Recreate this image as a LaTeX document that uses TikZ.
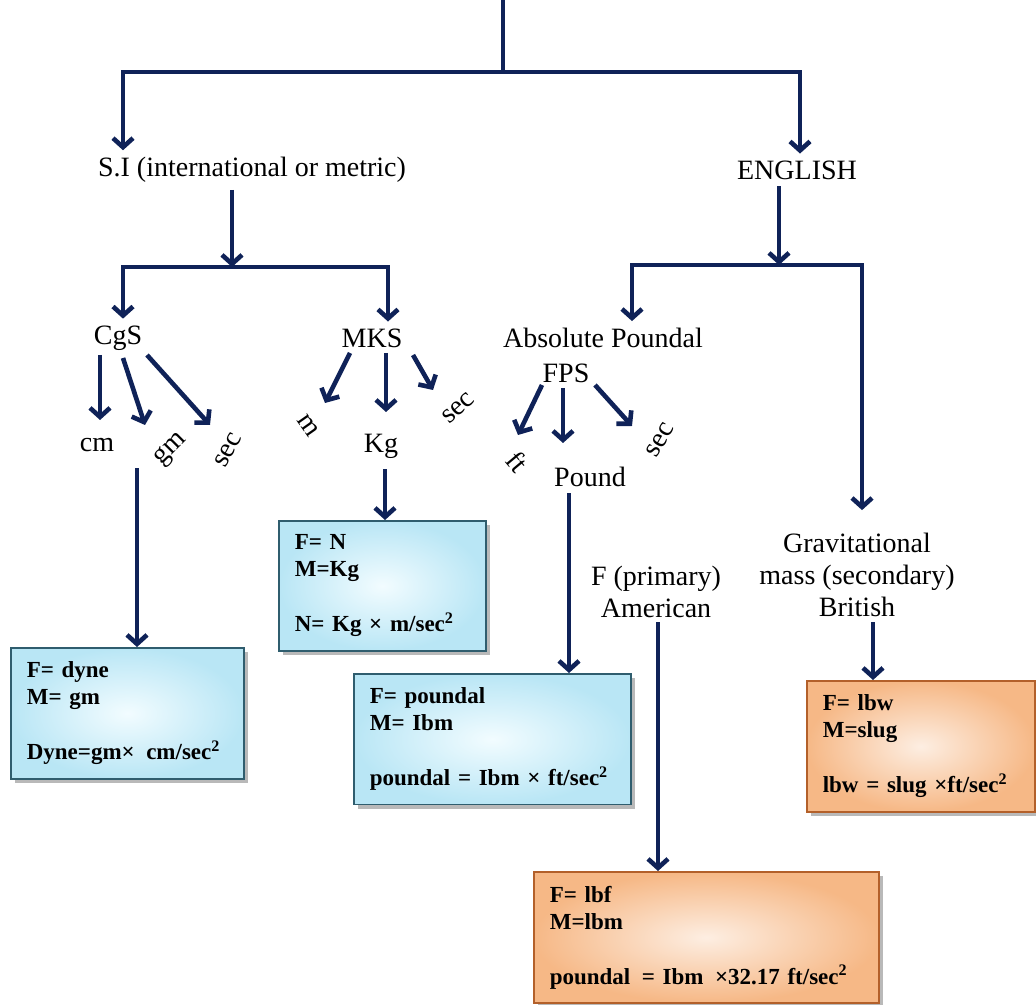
\documentclass[tikz,border=0pt]{standalone}
\usepackage{fontspec}
\setmainfont{Liberation Serif}
\usetikzlibrary{arrows.meta, calc, shadows}
\definecolor{navyline}{HTML}{0F2258}
\definecolor{blueedge}{HTML}{2F5D6E}
\definecolor{bluein}{HTML}{F2FCFF}
\definecolor{blueout}{HTML}{B9E6F5}
\definecolor{orangeedge}{HTML}{B3602A}
\definecolor{orangein}{HTML}{FDEEE2}
\definecolor{orangeout}{HTML}{F6B886}
\tikzset{
  link/.style={draw=navyline, line width=2.3pt, -{Straight Barb[length=4.5pt,width=10pt]}},
  trunk/.style={draw=navyline, line width=2.3pt},
  unitlabel/.style={inner sep=0pt},
  unitbox/.style={draw, line width=0.8pt, anchor=north west, align=left,
    inner xsep=8pt, inner ysep=7pt,
    font=\bfseries\fontsize{11.5}{13.5}\selectfont,
    drop shadow={shadow xshift=2pt, shadow yshift=-2pt, opacity=0.55}},
  sibox/.style={unitbox, draw=blueedge, inner color=bluein, outer color=blueout},
  engbox/.style={unitbox, draw=orangeedge, inner color=orangein, outer color=orangeout},
}

\begin{document}
\begin{tikzpicture}[x=0.5pt, y=-0.5pt, font=\fontsize{14}{16}\selectfont]
  \useasboundingbox (0,0) rectangle (1036,1004);

  % systems
  \node (si) at (252,170) {S.I (international or metric)};
  \node (eng) at (797,170) {ENGLISH};
  \node (cgs) at (118,338) {CgS};
  \node (mks) at (372,338) {MKS};
  \node (abs) at (603,338) {Absolute Poundal};
  \node (fps) at (566,373) {FPS};
  \node[align=center] (prim) at (656,592) {F (primary)\\American};
  \node[align=center] (grav) at (857,575) {Gravitational\\mass (secondary)\\British};

  % base units
  \node[unitlabel] (cm) at (97,445) {cm};
  \node[unitlabel, rotate=45] (gm) at (171,450) {gm};
  \node[unitlabel, rotate=62] (secA) at (228,450) {sec};
  \node[unitlabel, rotate=-55] (m) at (308,426) {m};
  \node[unitlabel] (kg) at (381,446) {Kg};
  \node[unitlabel, rotate=42] (secB) at (458,408) {sec};
  \node[unitlabel, rotate=-50] (ft) at (517,462) {ft};
  \node[unitlabel] (pound) at (590,477) {Pound};
  \node[unitlabel, rotate=60] (secC) at (660,440) {sec};

  % definitions
  \node[sibox, text width=100.5pt] (cgsbox) at (10,647)
    {F= dyne\\ M= gm\\[14pt] Dyne=gm× \,cm/sec\textsuperscript{2}};
  \node[sibox, text width=87.5pt] (mksbox) at (278,520)
    {F= N\\ M=Kg\\[14pt] N= Kg × m/sec\textsuperscript{2}};
  \node[sibox, text width=122.5pt] (pdlbox) at (353,673)
    {F= poundal\\ M= Ibm\\[14pt] \mbox{poundal = Ibm × ft/sec\textsuperscript{2}}};
  \node[engbox, text width=156.5pt] (lbfbox) at (533,871)
    {F= lbf\\ M=lbm\\[14pt] poundal \,= Ibm \,×32.17 ft/sec\textsuperscript{2}};
  \node[engbox, text width=98pt] (lbwbox) at (806,680)
    {F= lbw\\ M=slug\\[14pt] \mbox{lbw = slug ×ft/sec\textsuperscript{2}}};

  % tree
  \coordinate (root) at (503,0);
  \coordinate (jtop) at (503,72);
  \coordinate (jsi) at (123,72);
  \coordinate (jeng) at (800,72);
  \coordinate (jsub) at (232,267);
  \coordinate (jen) at (779,265);
  \draw[trunk] (root) -- (jtop);
  \draw[link] (jtop) -| (jsi |- si.north);
  \draw[link] (jtop) -| (jeng |- eng.north);
  \draw[link] (si.south -| jsub) -- (jsub);
  \draw[link] (jsub) -| ([xshift=2.5pt]cgs.north);
  \draw[link] (jsub) -| ([xshift=8pt]mks.north);
  \draw[link] (eng.south -| jen) -- (jen);
  \draw[link] (jen) -| ([xshift=14.5pt]abs.north);
  \draw[link] (jen) -| ([xshift=2.5pt,yshift=8pt]grav.north);

  % unit arrows
  \draw[link] ($(cgs)+(-18,17)$) -- ($(cm)+(3,-25)$);
  \draw[link] ($(cgs)+(5,20)$) -- ($(gm)+(-26,-25)$);
  \draw[link] ($(cgs)+(29,17)$) -- ($(secA)+(-18,-25)$);
  \draw[link] ($(mks)+(-22,15)$) -- ($(m)+(17,-23)$);
  \draw[link] ($(mks)+(14,15)$) -- ($(kg)+(5,-34)$);
  \draw[link] ($(mks)+(41,17)$) -- ($(secB)+(-25,-18)$);
  \draw[link] ($(fps)+(-24,12)$) -- ($(ft)+(1,-27)$);
  \draw[link] ($(fps)+(-3,15)$) -- ($(pound)+(-27,-34)$);
  \draw[link] ($(fps)+(29,12)$) -- ($(secC)+(-28,-14)$);

  % drops into the boxes
  \coordinate (cmdrop) at ($(cm)+(40,23)$);
  \coordinate (kgdrop) at ($(kg)+(4,23)$);
  \coordinate (pounddrop) at ($(pound)+(-21,16)$);
  \coordinate (primdrop) at ($(prim)+(2,30)$);
  \coordinate (gravdrop) at ($(grav)+(16,47)$);
  \draw[link] (cmdrop) -- (cmdrop |- cgsbox.north);
  \draw[link] (kgdrop) -- (kgdrop |- mksbox.north);
  \draw[link] (pounddrop) -- (pounddrop |- pdlbox.north);
  \draw[link] (primdrop) -- (primdrop |- lbfbox.north);
  \draw[link] (gravdrop) -- (gravdrop |- lbwbox.north);
\end{tikzpicture}
\end{document}
